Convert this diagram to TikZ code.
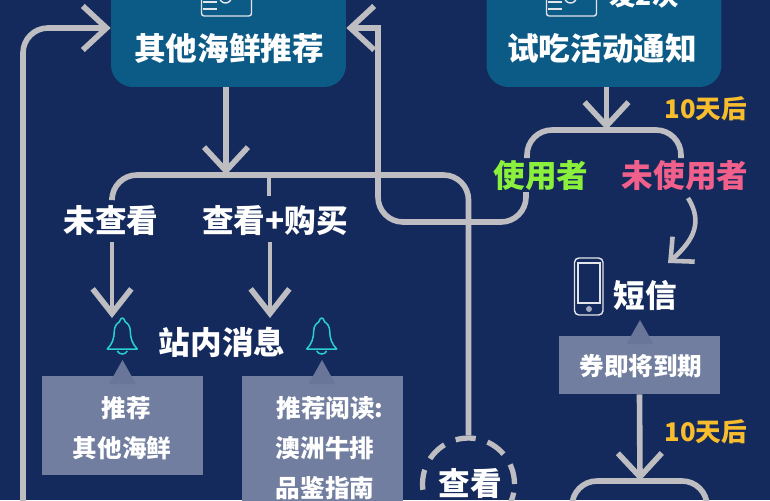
\documentclass[tikz,border=0pt]{standalone}
\usepackage{fontspec}
\newfontfamily\cjk{Noto Sans CJK SC}
\usetikzlibrary{arrows.meta, positioning}

\definecolor{pagebg}{RGB}{21,42,92}
\definecolor{tealbox}{RGB}{12,90,134}
\definecolor{greybox}{RGB}{113,126,159}
\definecolor{greytip}{RGB}{106,118,153}
\definecolor{flowgrey}{RGB}{189,189,194}
\definecolor{bellteal}{RGB}{42,208,208}
\definecolor{later}{RGB}{247,189,45}
\definecolor{usedgreen}{RGB}{139,240,60}
\definecolor{unusedpink}{RGB}{240,96,138}

\tikzset{
  bigtext/.style={inner sep=0pt, text=white, font=\cjk\bfseries\fontsize{18}{20}\selectfont},
  smalltext/.style={inner sep=0pt, text=white, font=\cjk\bfseries\fontsize{14}{16}\selectfont},
  latertext/.style={inner sep=0pt, text=later, font=\cjk\bfseries\fontsize{14.6}{16}\selectfont},
  mainbox/.style={fill=tealbox, rounded corners=0.44cm, minimum width=4.7cm, minimum height=2.36cm},
  notebox/.style={fill=greybox, minimum width=3.22cm},
  flow/.style={draw=flowgrey, line width=3.2pt, rounded corners=0.5cm},
  bighead/.style={-{Straight Barb[length=13.5pt,width=25pt,line width=3.2pt]}},
  smallhead/.style={-{Straight Barb[length=14pt,width=22pt,line width=3.2pt]}},
  thinicon/.style={draw=white!88!pagebg, line width=0.8pt},
  mailicon/.pic={
    \clip (-2,-20) rectangle (54,18);
    \draw[thinicon, rounded corners=1.5pt] (0,-20) rectangle (50,16);
    \draw[thinicon] (1,2) -- (15,2) (1,9) -- (15,9);
    \draw[thinicon] (24,-3) circle (6);
  },
  bellicon/.pic={
    \draw[draw=bellteal, line width=0.85pt, line join=round]
      (-15,31) -- (15,31)
      .. controls (10,26) and (8,20) .. (8,13)
      .. controls (8,8) and (5,5) .. (3,4)
      .. controls (2,1) and (1,0) .. (0,0)
      .. controls (-1,0) and (-2,1) .. (-3,4)
      .. controls (-5,5) and (-8,8) .. (-8,13)
      .. controls (-8,20) and (-10,26) .. (-15,31) -- cycle;
    \draw[draw=bellteal, line width=0.85pt] (-5,33) .. controls (-3,37) and (3,37) .. (5,33);
  }
}

\begin{document}
\begin{tikzpicture}[x=0.02cm, y=-0.02cm]
\useasboundingbox (0,0) rectangle (770,500);
\clip (0,0) rectangle (770,500);
\fill[pagebg] (0,0) rectangle (770,500);

% the two boxes at the top, cut by the page edge
\node[mainbox] (otherbox) at (228.5,28) {};
\node[mainbox] (trialbox) at (604,28) {};
\pic at (201.5,0) {mailicon};
\pic at (546.5,0) {mailicon};
\node[bigtext] (othertext) at (229,48) {其他海鲜推荐};
\node[bigtext] (trialtext) at (602,48) {试吃活动通知};
\node[inner sep=0pt, text=white, font=\cjk\bfseries\fontsize{15}{16}\selectfont] (twice) at (644,-4) {发2次};

% grey note boxes and their little tips
\node[notebox, minimum height=1.98cm] (notea) at (122.5,425.5) {};
\node[notebox, minimum height=2.6cm] (noteb) at (322.5,441) {};
\node[notebox, minimum height=1.16cm] (notec) at (639.5,365) {};
\foreach \x/\y in {122.5/360, 322/360, 640/320} {
    \fill[greytip] (\x,\y) -- ++(13.5,24) -- ++(-27,0) -- cycle;
};

% texts of the middle rows
\node[bigtext] (unseen) at (111,221) {未查看};
\node[bigtext] (seenbuy) at (275,221) {查看+购买};
\node[bigtext] (inside) at (222,342) {站内消息};
\node[bigtext, text=usedgreen] (used) at (541,176) {使用者};
\node[bigtext, text=unusedpink] (unused) at (685,176) {未使用者};
\node[bigtext] (sms) at (645,295) {短信};
\node[latertext] (latera) at (706,109) {10天后};
\node[latertext] (laterb) at (706,432) {10天后};

\node[smalltext] (notea1) at (126,408) {推荐};
\node[smalltext] (notea2) at (122,448) {其他海鲜};
\node[smalltext] (noteb1) at (330,408) {推荐阅读:};
\node[smalltext] (noteb2) at (325,448) {澳洲牛排};
\node[smalltext] (noteb3) at (325,488) {品鉴指南};
\node[smalltext] (notec1) at (641,366) {券即将到期};

\node[circle, draw=flowgrey, line width=3pt, dash pattern=on 11.5pt off 7pt, minimum size=1.84cm, inner sep=0pt] (seen) at (468.5,484) {};
\node[bigtext] (seentext) at (470,484) {查看};

% bells and phone
\pic at (122.3,318) {bellicon};
\pic at (321.7,318) {bellicon};
\draw[thinicon, rounded corners=2.5pt] (574.5,258) rectangle (603,315);
\draw[thinicon] (578,263) rectangle (600,303);
\fill[white!60!pagebg] (589,309) circle (3);

% junctions and free ends
\coordinate (loopstart) at (23,510);
\coordinate (topbar) at (226,175);
\coordinate (unseenup) at (112,197);
\coordinate (buytick) at (269,196);
\coordinate (backcorner) at (378,222);
\coordinate (usedlow) at (526,192);
\coordinate (trialbar) at (606.5,130);
\coordinate (usedup) at (527,158);
\coordinate (unusedup) at (681,158);
\coordinate (unusedlow) at (688,198);
\coordinate (smsin) at (668,263);
\coordinate (lowbar) at (640,481);
\coordinate (lowleft) at (572,510);
\coordinate (lowright) at (707,510);
\coordinate (bellina) at (112,318);
\coordinate (bellinb) at (270,318);

% connectors
\draw[flow, bighead] (loopstart) |- (otherbox.west);
\draw[flow, bighead] (usedlow) |- (backcorner) [sharp corners] |- (otherbox.east);
\draw[flow, bighead] (otherbox.south -| topbar) -- (topbar);
\draw[flow] (unseenup) |- (topbar) -| (seen.north);
\draw[draw=flowgrey, line width=2.2pt] (buytick) -- (buytick |- topbar);
\draw[flow, smallhead, line width=2.8pt] (unseenup |- unseen.south) ++(0,6) -- (bellina);
\draw[flow, smallhead, line width=2.8pt] (bellinb |- seenbuy.south) ++(0,6) -- (bellinb);
\draw[flow, bighead] (trialbox.south -| trialbar) -- (trialbar);
\draw[flow] (usedup) |- (trialbar) -| (unusedup);
\draw[draw=flowgrey, line width=2.6pt, -{Straight Barb[length=10pt,width=19pt,line width=2.6pt]}]
    (unusedlow) .. controls (703,222) and (694,240) .. (smsin);
\draw[flow, bighead] (notec.south) -- (lowbar);
\draw[flow] (lowleft) |- (lowbar) -| (lowright);
\end{tikzpicture}
\end{document}
